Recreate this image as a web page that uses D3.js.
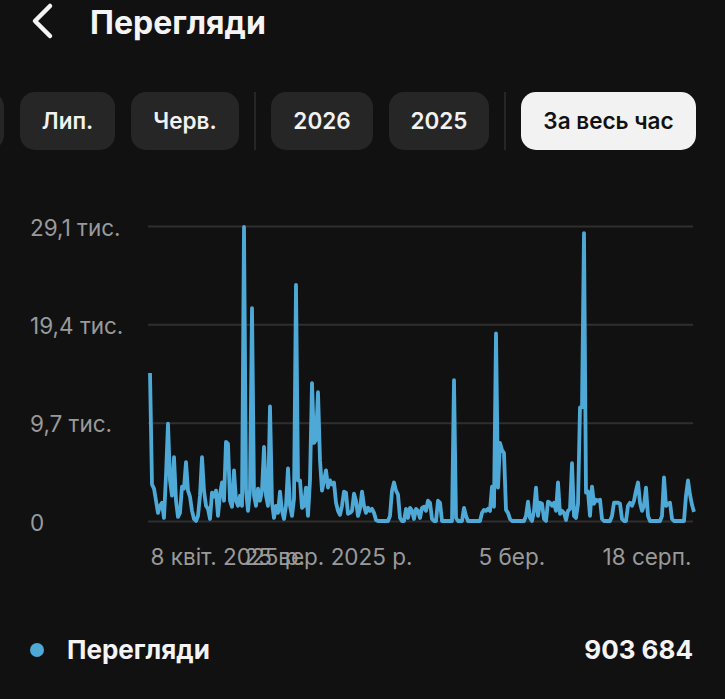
<!DOCTYPE html>
<html>
<head>
<meta charset="utf-8">
<script src="https://cdn.jsdelivr.net/npm/d3@7"></script>
<style>
  html, body { margin: 0; padding: 0; background: #111111; }
  svg { display: block; font-family: Inter, "Noto Sans", sans-serif; }
</style>
</head>
<body>
<script>
// views in thousands, one value per ~2 px of the original chart
const viewsK = [
  14.6, 3.6, 3.2, 2.0, 0.8,   1.5, 1.8, 0.3, 4.5, 9.6,
  4.0, 2.5, 6.3, 2.0, 0.4,    0.8, 3.4, 3.2, 5.8, 3.0,
  2.4, 1.0, 0.2, 0.0, 0.5,    2.5, 6.3, 3.0, 1.5, 1.2,
  0.2, 2.8, 2.4, 3.0, 0.5,    2.6, 3.8, 2.0, 7.8, 7.6,
  2.0, 1.4, 5.0, 2.0, 1.5,    2.5, 1.5, 29.0, 3.0, 1.0,
  3.0, 21.0, 2.5, 1.5, 3.2,   2.0, 3.0, 7.3, 2.5, 1.5,
  11.3, 1.8, 0.3, 1.5, 0.8,   2.9, 1.0, 0.2, 1.5, 5.2,
  1.5, 0.5, 2.2, 23.3, 4.0,   4.0, 1.3, 1.5, 3.3, 0.5,
  4.0, 13.6, 7.7, 8.0, 12.7,  6.0, 3.0, 4.0, 5.0, 3.3,
  4.0, 3.6, 3.8, 1.8, 1.0,    0.6, 1.5, 2.9, 2.8, 0.7,
  0.8, 1.0, 2.7, 2.0, 0.5,    1.2, 2.9, 1.5, 0.8, 1.3,
  1.0, 1.2, 0.8, 0.1, 0.0,    0.0, 0.0, 0.0, 0.0, 0.0,
  0.5, 3.0, 3.8, 3.0, 2.6,    0.3, 0.0, 0.0, 1.2, 0.3,
  1.3, 1.0, 0.2, 1.2, 1.0,    0.3, 1.3, 1.4, 1.0, 2.0,
  1.8, 0.2, 0.0, 0.0, 2.0,    1.8, 0.0, 0.0, 0.0, 0.0,
  0.0, 0.0, 13.9, 0.3, 0.0,   0.0, 0.0, 1.3, 0.5, 0.0,
  0.0, 0.0, 0.0, 0.0, 0.0,    0.0, 0.8, 1.1, 1.0, 1.2,
  1.0, 3.4, 1.4, 18.5, 3.3,   7.7, 7.0, 6.7, 1.1, 0.8,
  0.2, 0.0, 0.0, 0.0, 0.0,    0.0, 0.0, 0.0, 0.5, 1.9,
  0.3, 0.0, 1.0, 3.3, 0.5,    1.8, 1.7, 0.2, 0.0, 1.9,
  1.8, 1.5, 1.8, 1.0, 3.8,    0.7, 1.0, 0.8, 0.1, 1.0,
  1.2, 5.7, 0.5, 0.3, 1.7,    11.2, 11.2, 28.4, 2.8, 2.9,
  0.5, 3.4, 1.7, 2.1, 2.0,    2.1, 0.2, 0.0, 0.0, 0.0,
  0.0, 0.5, 1.8, 1.8, 1.8,    1.7, 0.2, 0.0, 0.0, 1.5,
  1.8, 1.5, 2.0, 3.0, 3.8,    1.8, 1.0, 1.5, 3.3, 0.5,
  0.0, 0.0, 0.0, 0.0, 0.0,    0.0, 0.5, 4.3, 1.5, 1.7,
  1.8, 0.2, 0.0, 0.0, 0.0,    0.0, 0.0, 0.0, 2.5, 4.0,
  2.6, 1.6, 0.9
];

const yTicks = [0, 9.7, 19.4, 29.1];
const yTickLabels = ["0", "9,7 тис.", "19,4 тис.", "29,1 тис."];

// data index at which each date label starts
const xTickIndex = [0, 47, 164, 226];
const xTickLabels = ["8 квіт. 2025 р.", "25 вер. 2025 р.", "5 бер.", "18 серп."];

const title = "Перегляди";
const filterGroups = [["", "Лип.", "Черв."], ["2026", "2025"], ["За весь час"]];
const activeFilter = "За весь час";
const seriesName = "Перегляди";
const seriesTotal = "903 684";

const W = 725, H = 699;
const lineColor = "#4fa9d6";

const svg = d3.select("body").append("svg")
  .attr("width", W)
  .attr("height", H);

svg.append("rect").attr("width", W).attr("height", H).attr("fill", "#111111");

// header
svg.append("path")
  .attr("d", "M50,6 L35,21 L50,36")
  .attr("fill", "none")
  .attr("stroke", "#f4f4f4")
  .attr("stroke-width", 4.5)
  .attr("stroke-linecap", "round")
  .attr("stroke-linejoin", "round");

svg.append("text")
  .attr("x", 90).attr("y", 22)
  .attr("dy", "0.36em")
  .attr("fill", "#f4f4f4")
  .style("font-size", "32px")
  .style("font-weight", 700)
  .text(title);

// filter pills
const pillWidths = { "": 60, "Лип.": 95, "Черв.": 108, "2026": 102, "2025": 100, "За весь час": 175 };
let px = -56;
filterGroups.forEach((group, gi) => {
  if (gi > 0) {
    svg.append("line")
      .attr("x1", px).attr("x2", px)
      .attr("y1", 92).attr("y2", 150)
      .attr("stroke", "#2e2e2e").attr("stroke-width", 1.5);
    px += 16;
  }
  group.forEach(label => {
    const w = pillWidths[label];
    const active = label === activeFilter;
    const g = svg.append("g").attr("transform", `translate(${px},92)`);
    g.append("rect")
      .attr("width", w).attr("height", 58)
      .attr("rx", 15)
      .attr("fill", active ? "#f2f2f2" : "#262626");
    g.append("text")
      .attr("x", w / 2).attr("y", 29)
      .attr("dy", "0.36em")
      .attr("text-anchor", "middle")
      .attr("fill", active ? "#111111" : "#f2f2f2")
      .style("font-size", "22.5px")
      .style("font-weight", 600)
      .text(label);
    px += w + 16;
  });
});

// chart
const x = d3.scaleLinear().domain([0, viewsK.length - 1]).range([150, 694]);
const y = d3.scaleLinear().domain([0, 29.1]).range([521, 226]);

const yAxis = svg.append("g")
  .attr("transform", "translate(148,0)")
  .call(d3.axisLeft(y)
    .tickValues(yTicks)
    .tickSize(-(693 - 148))
    .tickFormat((d, i) => yTickLabels[i]));
yAxis.select(".domain").remove();
yAxis.selectAll(".tick line")
  .attr("stroke", "#2f2f2f")
  .attr("stroke-width", 2);
yAxis.selectAll(".tick text")
  .attr("x", 30 - 148)
  .attr("dy", "0.4em")
  .attr("text-anchor", "start")
  .attr("fill", "#9a9a9a")
  .style("font-size", "22.5px")
  .style("font-family", "Inter, sans-serif");

const xAxis = svg.append("g")
  .attr("transform", "translate(0,545)")
  .call(d3.axisBottom(x)
    .tickValues(xTickIndex)
    .tickSize(0)
    .tickFormat((d, i) => xTickLabels[i]));
xAxis.select(".domain").remove();
xAxis.selectAll(".tick text")
  .attr("text-anchor", "start")
  .attr("y", 12)
  .attr("dy", "0.36em")
  .attr("fill", "#9a9a9a")
  .style("font-size", "22.5px")
  .style("font-family", "Inter, sans-serif");

const line = d3.line()
  .x((d, i) => x(i))
  .y(d => y(d));

svg.append("path")
  .datum(viewsK)
  .attr("d", line)
  .attr("fill", "none")
  .attr("stroke", lineColor)
  .attr("stroke-width", 3.8)
  .attr("stroke-linejoin", "round");

// legend
svg.append("circle")
  .attr("cx", 37).attr("cy", 650).attr("r", 7)
  .attr("fill", lineColor);
svg.append("text")
  .attr("x", 67).attr("y", 650)
  .attr("dy", "0.36em")
  .attr("fill", "#f4f4f4")
  .style("font-size", "26px")
  .style("font-weight", 700)
  .text(seriesName);
svg.append("text")
  .attr("x", 693).attr("y", 650)
  .attr("dy", "0.36em")
  .attr("text-anchor", "end")
  .attr("fill", "#f4f4f4")
  .style("font-size", "26px")
  .style("font-weight", 700)
  .text(seriesTotal);
</script>
</body>
</html>
